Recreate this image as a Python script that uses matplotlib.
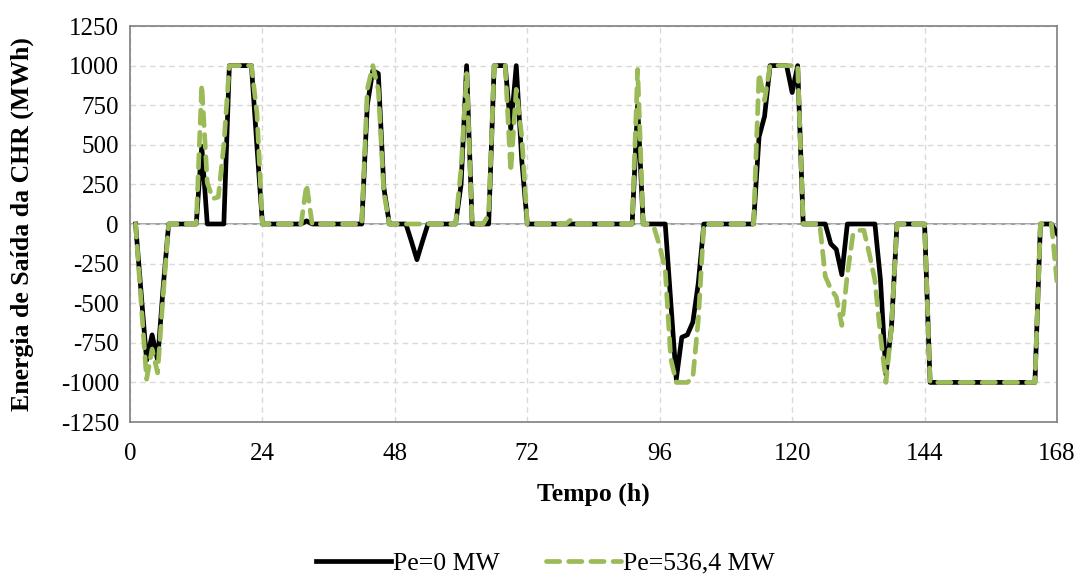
import matplotlib

matplotlib.use("Agg")
import matplotlib.pyplot as plt
import numpy as np

# hourly CHR output (MWh), hours 1..168
hours = np.arange(1, 169)

pe_0 = [
    0, -430, -860, -700, -860, -400, 0, 0, 0, 0, 0, 0,
    490, 0, 0, 0, 0, 1000, 1000, 1000, 1000, 1000, 490, 0,
    0, 0, 0, 0, 0, 0, 0, 20, 0, 0, 0, 0,
    0, 0, 0, 0, 0, 0, 750, 970, 950, 230, 0, 0,
    0, 0, -110, -225, -110, 0, 0, 0, 0, 0, 0, 250,
    1000, 0, 0, 0, 0, 1000, 1000, 1000, 600, 1000, 400, 0,
    0, 0, 0, 0, 0, 0, 0, 0, 0, 0, 0, 0,
    0, 0, 0, 0, 0, 0, 0, 750, 0, 0, 0, 0,
    0, -490, -980, -715, -700, -620, -370, 0, 0, 0, 0, 0,
    0, 0, 0, 0, 0, 550, 680, 1000, 1000, 1000, 1000, 830,
    1000, 0, 0, 0, 0, 0, -125, -160, -320, 0, 0, 0,
    0, 0, 0, -350, -950, -650, 0, 0, 0, 0, 0, 0,
    -1000, -1000, -1000, -1000, -1000, -1000, -1000, -1000, -1000, -1000, -1000, -1000,
    -1000, -1000, -1000, -1000, -1000, -1000, -1000, -1000, 0, 0, 0, -60,
]

pe_536 = [
    0, -490, -980, -790, -940, -450, 0, 0, 0, 0, 0, 0,
    880, 260, 160, 170, 500, 1000, 1000, 1000, 1000, 1000, 700, 0,
    0, 0, 0, 0, 0, 0, 0, 250, 0, 0, 0, 0,
    0, 0, 0, 0, 0, 0, 850, 1000, 850, 200, 0, 0,
    0, 0, 0, 0, 0, 0, 0, 0, 0, 0, 0, 350,
    950, 0, 0, 0, 60, 1000, 1000, 1000, 330, 850, 550, 0,
    0, 0, 0, 0, 0, 0, 0, 30, 0, 0, 0, 0,
    0, 0, 0, 0, 0, 0, 0, 975, 0, 0, -25, -140,
    -290, -850, -1000, -1000, -1000, -970, -600, 0, 0, 0, 0, 0,
    0, 0, 0, 0, 0, 950, 780, 1000, 1000, 1000, 1000, 1000,
    1000, 0, 0, 0, 0, -330, -410, -460, -640, -320, -70, -40,
    -40, -190, -355, -700, -1000, -650, 0, 0, 0, 0, 0, 0,
    -1000, -1000, -1000, -1000, -1000, -1000, -1000, -1000, -1000, -1000, -1000, -1000,
    -1000, -1000, -1000, -1000, -1000, -1000, -1000, -1000, 0, 0, 0, -370,
]

x_ticks = [0, 24, 48, 72, 96, 120, 144, 168]
y_ticks = [-1250, -1000, -750, -500, -250, 0, 250, 500, 750, 1000, 1250]

plt.rcParams["font.family"] = ["Liberation Serif", "DejaVu Serif"]
plt.rcParams["axes.unicode_minus"] = False

fig = plt.figure(figsize=(10.8, 5.74), dpi=100)
fig.patch.set_facecolor("white")
ax = fig.add_axes([0.1204, 0.2648, 0.8583, 0.6899])

grid_color = "#D9D9D9"
frame_color = "#7F7F7F"

ax.axhline(0, color="#8C8C8C", linewidth=1.2, zorder=1)
ax.plot(hours, pe_0, color="black", linewidth=3.4, solid_joinstyle="round",
        label="Pe=0 MW", zorder=3)
ax.plot(hours, pe_536, color="#9BBB59", linewidth=3.4, linestyle=(0, (2.8, 1.9)),
        dash_capstyle="round", label="Pe=536,4 MW", zorder=4)

ax.set_xlim(0, 168)
ax.set_ylim(-1250, 1250)
ax.set_xticks(x_ticks)
ax.set_yticks(y_ticks)
ax.tick_params(axis="both", length=0, labelsize=18, colors="black")
ax.tick_params(axis="x", pad=15)
ax.tick_params(axis="y", pad=8)
ax.grid(True, color=grid_color, linestyle=(0, (4, 3)), linewidth=1.0, zorder=0)
for spine in ax.spines.values():
    spine.set_color(frame_color)
    spine.set_linewidth(1.2)

ax.set_xlabel("Tempo (h)", fontsize=18.5, fontweight="bold")
ax.set_ylabel("Energia de Saída da CHR (MWh)", fontsize=18.5, fontweight="bold")
ax.xaxis.set_label_coords(0.5, -0.152)
ax.yaxis.set_label_coords(-0.104, 0.5)

fig.legend(loc="center", bbox_to_anchor=(0.505, 0.019), ncol=2, frameon=False,
           fontsize=18.5, handlelength=2.9, handletextpad=0.1, columnspacing=1.8)

fig.savefig("out.png", dpi=100, facecolor="white")
